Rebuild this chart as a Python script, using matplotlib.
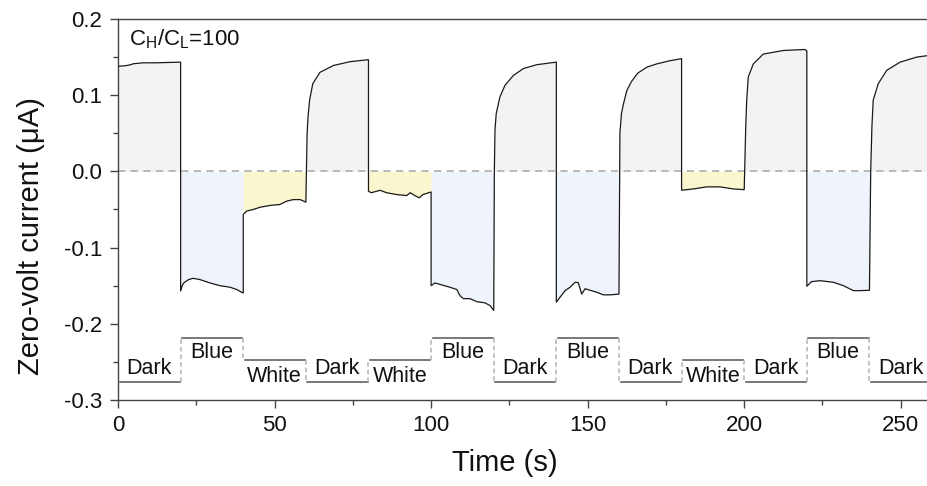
import matplotlib
matplotlib.use("Agg")
import matplotlib.pyplot as plt
import numpy as np
from matplotlib.ticker import MultipleLocator, FormatStrFormatter

plt.rcParams['font.family'] = ['Liberation Sans', 'DejaVu Sans']
plt.rcParams['mathtext.fontset'] = 'custom'
plt.rcParams['mathtext.rm'] = 'Liberation Sans'
plt.rcParams['axes.unicode_minus'] = False

# ---- data ----
time_s = [
    0, 2, 3.5, 5, 8, 12, 16, 20,
    20, 20.5, 21, 22.5, 24, 26.2, 29.4, 32.6, 35.8, 37.9, 39.5, 40,
    40, 41.1, 43.2, 45.4, 48.5, 51.7, 53.9, 56, 58.2, 60,
    60, 60.4, 60.7, 61.2, 62.2, 64.5, 68.8, 74.1, 80,
    80, 80.9, 83.7, 85.8, 89, 92.2, 93.3, 94.8, 96.2, 97.4, 100,
    100, 101.2, 103.4, 106, 108.2, 109.2, 110.3, 112.4, 114.6, 117.2, 118.8, 120,
    120, 120.2, 120.4, 120.8, 122, 123.6, 126.3, 129.5, 133.7, 140,
    140, 141.2, 142.8, 144.4, 146, 147, 148.1, 149.2, 150.8, 152.9, 155, 157.2, 160,
    160, 160.3, 160.8, 161.4, 162.5, 164, 166, 169, 172, 176, 180,
    180, 183.8, 188, 192.3, 196.5, 200,
    200, 200.5, 200.8, 201.3, 202.9, 206.1, 212.5, 219.4, 220,
    220, 221.5, 224.2, 228.5, 231.7, 234.9, 237, 240,
    240, 240.4, 240.8, 241.2, 242.8, 245.5, 249.8, 255.1, 258.7,
]
current_uA = [
    0.138, 0.1385, 0.1395, 0.1413, 0.1425, 0.1425, 0.143, 0.1434,
    -0.157, -0.150, -0.1464, -0.142, -0.1403, -0.142, -0.1464, -0.150, -0.152, -0.155, -0.1586, -0.1595,
    -0.0565, -0.052, -0.050, -0.047, -0.0447, -0.0434, -0.039, -0.037, -0.037, -0.0404,
    -0.0404, 0.05, 0.072, 0.0935, 0.115, 0.130, 0.139, 0.144, 0.1466,
    -0.026, -0.028, -0.0248, -0.028, -0.0304, -0.0317, -0.028, -0.0317, -0.0347, -0.0304, -0.027,
    -0.150, -0.1464, -0.149, -0.152, -0.155, -0.163, -0.167, -0.167, -0.171, -0.1725, -0.176, -0.1825,
    -0.1825, 0.0, 0.054, 0.076, 0.098, 0.113, 0.126, 0.135, 0.140, 0.1434,
    -0.1716, -0.165, -0.1565, -0.152, -0.1455, -0.146, -0.161, -0.154, -0.156, -0.1586, -0.162, -0.162, -0.161,
    -0.161, 0.05, 0.076, 0.088, 0.106, 0.118, 0.129, 0.137, 0.141, 0.145, 0.148,
    -0.0247, -0.023, -0.0203, -0.0203, -0.023, -0.024,
    -0.024, 0.06, 0.0935, 0.124, 0.141, 0.154, 0.1587, 0.160, 0.158,
    -0.1507, -0.1447, -0.1434, -0.1455, -0.150, -0.1565, -0.1565, -0.156,
    -0.156, 0.0, 0.06, 0.0935, 0.115, 0.1326, 0.1434, 0.150, 0.152,
]
seg_start = [0, 20, 40, 60, 80, 100, 120, 140, 160, 180, 200, 220, 240]
seg_label = ["Dark", "Blue", "White", "Dark", "White", "Blue", "Dark",
             "Blue", "Dark", "White", "Dark", "Blue", "Dark"]
seg_len = 20

# ---- styles ----
fill_col = {"Dark": "#f3f3f3", "Blue": "#eff3fc", "White": "#faf6cd"}
level = {"Dark": -0.277, "Blue": -0.218, "White": -0.248}
text_y = {"Dark": -0.266, "Blue": -0.2446, "White": -0.276}

t = np.array(time_s)
y = np.array(current_uA)

fig = plt.figure(figsize=(9.28, 4.86), dpi=100)
ax = fig.add_axes([118/928, 1-400/486, (928-118)/928, (400-19)/486])

for s, lab in zip(seg_start, seg_label):
    m = (t >= s) & (t <= s + seg_len)
    ax.fill_between(t[m], y[m], 0, color=fill_col[lab], lw=0, zorder=1)

ax.axhline(0, color="#b3b3b3", lw=1.3, ls=(0, (4, 3)), zorder=2)
ax.plot(t, y, color="#1a1a1a", lw=0.9, zorder=3)

# condition bars
for k, (s, lab) in enumerate(zip(seg_start, seg_label)):
    ax.plot([s + 0.5, s + seg_len - 0.3], [level[lab]] * 2, color="#555555", lw=1.1, zorder=3)
    ax.text(s + seg_len / 2, text_y[lab], lab, ha="center", va="baseline",
            fontsize=15.5, color="#111111")
    if k > 0:
        prev = seg_label[k - 1]
        ax.plot([s, s], [level[prev], level[lab]], color="#b3b3b3", lw=1.1,
                ls=(0, (3, 2)), zorder=3)

ax.text(3.6, 0.165, r"C$_\mathregular{H}$/C$_\mathregular{L}$=100", fontsize=16,
        ha="left", va="baseline", color="#111111")

ax.set_xlim(0, 258.7)
ax.set_ylim(-0.3, 0.2)
ax.xaxis.set_major_locator(MultipleLocator(50))
ax.xaxis.set_minor_locator(MultipleLocator(25))
ax.yaxis.set_major_locator(MultipleLocator(0.1))
ax.yaxis.set_minor_locator(MultipleLocator(0.05))
ax.yaxis.set_major_formatter(FormatStrFormatter("%.1f"))

for sp in ["left", "bottom", "top"]:
    ax.spines[sp].set_color("#444444")
    ax.spines[sp].set_linewidth(1.0)
ax.spines["right"].set_visible(False)

ax.tick_params(which="major", direction="out", length=5.5, width=1.0, color="#444444",
               labelsize=16, labelcolor="#111111", top=False, right=False)
ax.tick_params(which="minor", direction="out", length=3.5, width=1.0, color="#444444",
               top=False, right=False)
ax.tick_params(axis="x", which="major", pad=5)
ax.tick_params(axis="y", which="major", pad=6)

ax.set_xlabel("Time (s)", fontsize=21, color="#111111")
ax.set_ylabel("Zero-volt current (μA)", fontsize=21, color="#111111")
ax.xaxis.set_label_coords(0.478, -0.128)
ax.yaxis.set_label_coords(-0.09, 0.43)

fig.savefig("out.png", dpi=100)
